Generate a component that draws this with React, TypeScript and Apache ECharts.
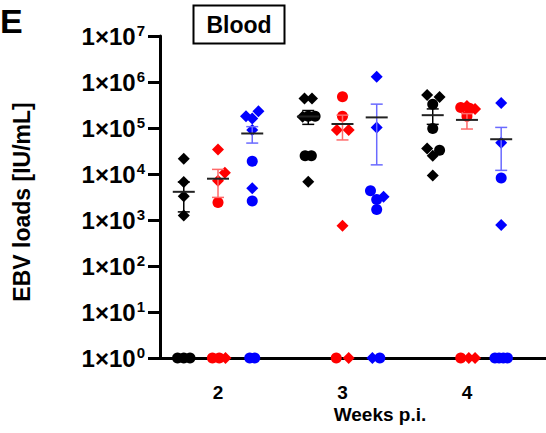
import React, { useEffect, useRef } from "react";
import * as echarts from "echarts";

const FONT = "'Liberation Sans', Arial, sans-serif";

const weeks = [2, 3, 4];
const xTickValues = [2, 3, 4];
const yTickExponents = [0, 1, 2, 3, 4, 5, 6, 7];
const groupNames = ["black", "red", "blue"];
const groupOffsets = [-0.275, 0, 0.275];
const groupColors = ["#000000", "#ff0000", "#0000ff"];
const errorColors = ["#000000", "#ff6a6a", "#6a6aff"];

// values (IU/mL); 1 = undetectable, drawn on the baseline
// shapes: d = diamond, c = circle; jitter = horizontal spread in week units
const blackW2 = [21500, 6700, 3300, 1260, 1, 1, 1];
const blackW2Shape = ["d", "d", "d", "d", "c", "c", "c"];
const blackW2Jit = [0, 0, 0, 0, -0.05, 0, 0.05];

const redW2 = [34000, 10700, 7100, 2400, 1, 1, 1];
const redW2Shape = ["d", "d", "d", "c", "c", "c", "d"];
const redW2Jit = [0, 0.055, 0, 0, -0.045, 0.01, 0.06];

const blueW2 = [180000, 160000, 230000, 91000, 19000, 4900, 2600, 1, 1];
const blueW2Shape = ["d", "d", "d", "d", "c", "d", "c", "c", "c"];
const blueW2Jit = [-0.05, 0, 0.05, 0, 0, 0, 0, -0.02, 0.02];

const blackW3 = [440000, 440000, 175000, 180000, 180000, 25000, 25000, 6800];
const blackW3Shape = ["d", "d", "d", "c", "c", "c", "c", "d"];
const blackW3Jit = [-0.03, 0.03, -0.045, 0, 0.055, -0.025, 0.025, 0];

const redW3 = [480000, 180000, 91000, 91000, 750, 1, 1];
const redW3Shape = ["c", "c", "d", "d", "d", "c", "d"];
const redW3Jit = [0, 0, -0.045, 0.05, 0, -0.05, 0.05];

const blueW3 = [1300000, 102000, 4300, 2800, 3200, 1700, 1, 1];
const blueW3Shape = ["d", "d", "c", "c", "d", "c", "d", "c"];
const blueW3Jit = [0, 0, -0.05, 0, 0.055, 0, -0.035, 0.025];

const blackW4 = [520000, 470000, 330000, 98000, 36000, 33000, 25000, 9300];
const blackW4Shape = ["d", "d", "c", "c", "d", "c", "d", "d"];
const blackW4Jit = [-0.045, 0.055, 0, 0, -0.045, 0.055, 0, 0];

const redW4 = [280000, 300000, 270000, 260000, 180000, 1, 1, 1];
const redW4Shape = ["c", "d", "c", "d", "c", "c", "d", "d"];
const redW4Jit = [-0.05, 0, 0.02, 0.065, 0, -0.05, 0.015, 0.065];

const blueW4 = [350000, 48000, 8200, 780, 1, 1, 1, 1];
const blueW4Shape = ["d", "d", "c", "d", "c", "c", "c", "c"];
const blueW4Jit = [0, 0, 0, 0, -0.05, -0.017, 0.017, 0.05];

// mean and error bar ends per week (2,3,4)
const blackMean = [4100, 178000, 190000];
const blackLow = [1500, 120000, 120000];
const blackHigh = [6700, 240000, 260000];
const redMean = [7900, 122000, 150000];
const redLow = [3100, 55000, 95000];
const redHigh = [12600, 190000, 205000];
const blueMean = [76000, 170000, 57000];
const blueLow = [47000, 15800, 12000];
const blueHigh = [107000, 330000, 103000];

const groups = [
  [
    [blackW2, blackW2Shape, blackW2Jit],
    [blackW3, blackW3Shape, blackW3Jit],
    [blackW4, blackW4Shape, blackW4Jit],
  ],
  [
    [redW2, redW2Shape, redW2Jit],
    [redW3, redW3Shape, redW3Jit],
    [redW4, redW4Shape, redW4Jit],
  ],
  [
    [blueW2, blueW2Shape, blueW2Jit],
    [blueW3, blueW3Shape, blueW3Jit],
    [blueW4, blueW4Shape, blueW4Jit],
  ],
];
const stats = [
  [blackMean, blackLow, blackHigh],
  [redMean, redLow, redHigh],
  [blueMean, blueLow, blueHigh],
];

export default function App() {
  const ref = useRef<HTMLDivElement>(null);
  useEffect(() => {
    if (!ref.current) return;
    const chart = echarts.init(ref.current, null, { renderer: "svg" });

    const series: any[] = [];
    groups.forEach((perWeek, gi) => {
      const data: any[] = [];
      perWeek.forEach((grp: any, wi) => {
        const [vals, shapes, jit] = grp;
        vals.forEach((v: number, k: number) => {
          const isD = shapes[k] === "d";
          data.push({
            value: [weeks[wi] + groupOffsets[gi] + jit[k], v],
            symbol: isD ? "diamond" : "circle",
            symbolSize: isD ? 12 : 11,
          });
        });
      });
      series.push({
        name: groupNames[gi],
        type: "scatter",
        data,
        itemStyle: { color: groupColors[gi], opacity: 1 },
        z: 3,
        silent: true,
      });
    });

    stats.forEach(([mean, low, high], gi) => {
      const data = weeks.map((w, wi) => [w + groupOffsets[gi], mean[wi], low[wi], high[wi]]);
      series.push({
        type: "custom",
        z: 4,
        silent: true,
        data,
        encode: { x: 0, y: [1, 2, 3] },
        renderItem: (params: any, api: any) => {
          const x = api.value(0);
          const pm = api.coord([x, api.value(1)]);
          const pl = api.coord([x, api.value(2)]);
          const ph = api.coord([x, api.value(3)]);
          const cap = 6;
          const mw = 11;
          const es = { stroke: errorColors[gi], lineWidth: 1.5 };
          return {
            type: "group",
            children: [
              { type: "line", shape: { x1: pm[0], y1: ph[1], x2: pm[0], y2: pl[1] }, style: es },
              { type: "line", shape: { x1: pm[0] - cap, y1: ph[1], x2: pm[0] + cap, y2: ph[1] }, style: es },
              { type: "line", shape: { x1: pm[0] - cap, y1: pl[1], x2: pm[0] + cap, y2: pl[1] }, style: es },
              {
                type: "line",
                shape: { x1: pm[0] - mw, y1: pm[1], x2: pm[0] + mw, y2: pm[1] },
                style: { stroke: "#222222", lineWidth: 2 },
              },
            ],
          };
        },
      });
    });

    chart.setOption({
      animation: false,
      grid: { left: 160, right: 0, top: 36, bottom: 75, containLabel: false },
      xAxis: {
        type: "value",
        min: 1.534,
        max: 4.635,
        splitLine: { show: false },
        axisTick: { show: false },
        axisLine: { lineStyle: { color: "#000", width: 3 } },
        axisLabel: {
          customValues: xTickValues,
          formatter: (v: number) => String(v),
          color: "#000",
          fontSize: 19,
          fontWeight: "bold",
          fontFamily: FONT,
          margin: 25,
        },
      },
      yAxis: {
        type: "log",
        logBase: 10,
        min: 1,
        max: 1e7,
        splitLine: { show: false },
        axisLine: { lineStyle: { color: "#000", width: 3 } },
        axisTick: { length: 12, lineStyle: { color: "#000", width: 3 } },
        axisLabel: {
          margin: 15,
          formatter: (v: number) => {
            const e = Math.round(Math.log10(v));
            return yTickExponents.includes(e) ? `{a|1×10}{b|${e}}` : "";
          },
          rich: {
            a: { fontSize: 24, fontWeight: "bold", fontFamily: FONT, color: "#000" },
            b: { fontSize: 15, fontWeight: "bold", fontFamily: FONT, color: "#000", padding: [0, 0, 11, 1] },
          },
        },
      },
      graphic: [
        {
          type: "text",
          left: 0,
          top: 4,
          style: { text: "E", font: `bold 34px ${FONT}`, fill: "#000" },
        },
        {
          type: "rect",
          shape: { x: 193.5, y: 5.5, width: 91, height: 38 },
          style: { fill: "#fff", stroke: "#000", lineWidth: 2 },
        },
        {
          type: "text",
          x: 239,
          y: 25,
          style: { text: "Blood", font: `bold 23px ${FONT}`, fill: "#000", align: "center", verticalAlign: "middle" },
        },
        {
          type: "text",
          x: 22,
          y: 202,
          rotation: Math.PI / 2,
          style: { text: "EBV loads [IU/mL]", font: `bold 23px ${FONT}`, fill: "#000", align: "center", verticalAlign: "middle" },
        },
        {
          type: "text",
          x: 380,
          y: 414,
          style: { text: "Weeks p.i.", font: `bold 19px ${FONT}`, fill: "#000", align: "center", verticalAlign: "middle" },
        },
      ],
      series,
    });
    return () => chart.dispose();
  }, []);
  return <div ref={ref} style={{ width: 546, height: 433, position: "absolute", left: 0, top: 0 }} />;
}
